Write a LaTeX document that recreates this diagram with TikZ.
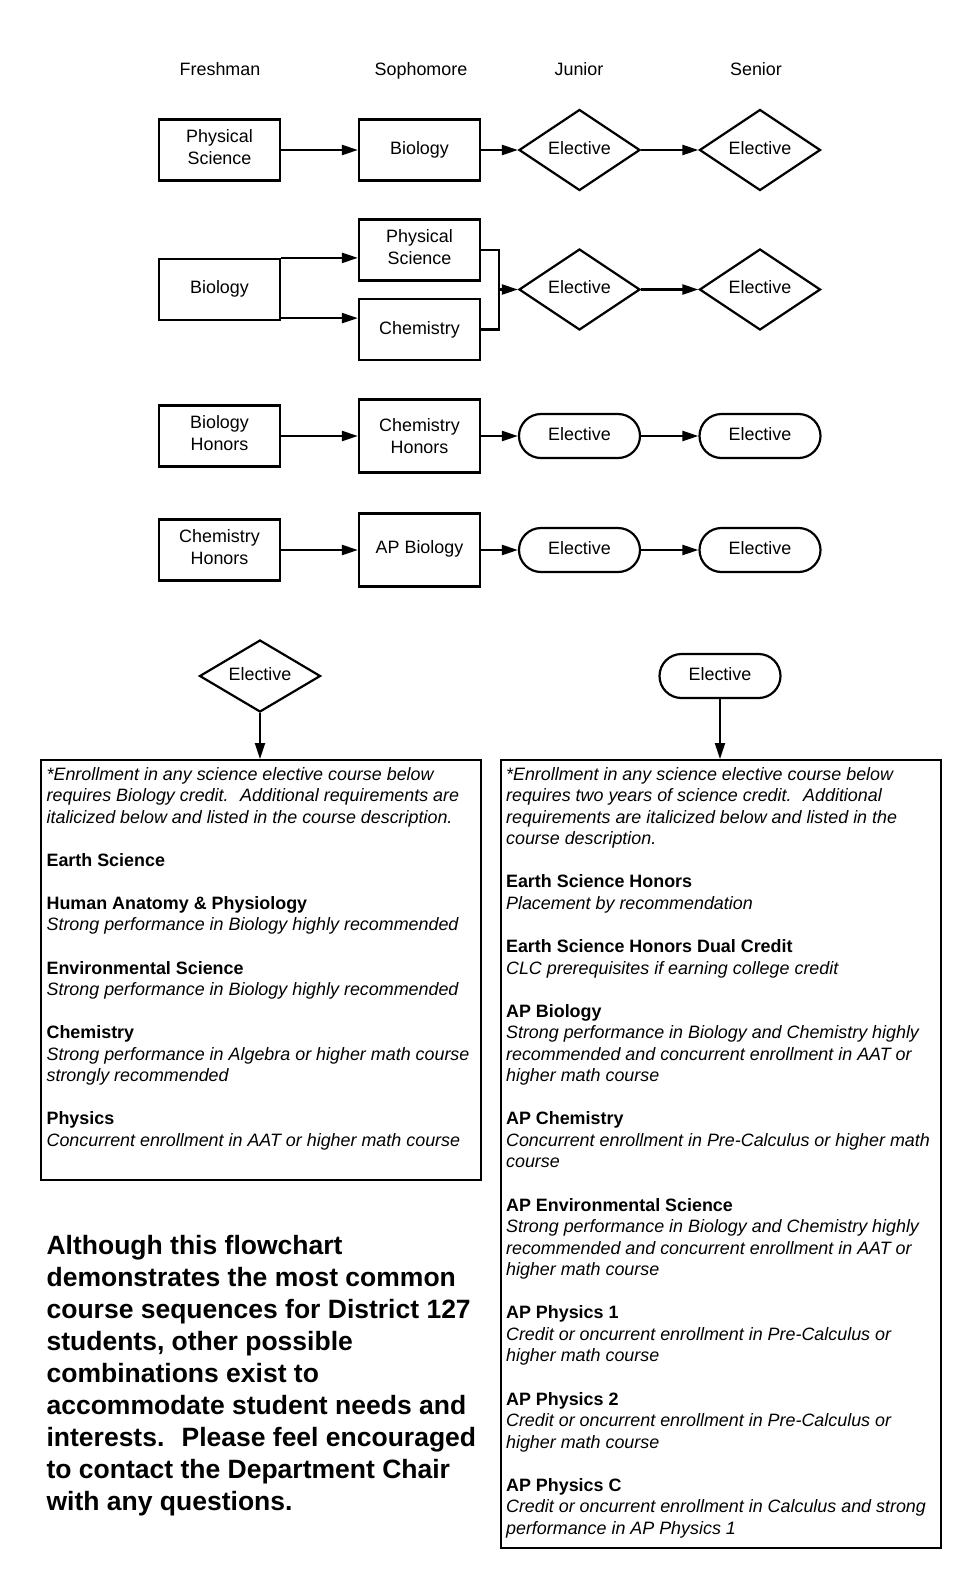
\documentclass[tikz,border=0pt]{standalone}
\usepackage{fontspec}
\setmainfont{Liberation Sans}
\usetikzlibrary{positioning,calc,arrows.meta,shapes.geometric}
\newcommand{\crs}[1]{\textbf{#1}}
\newcommand{\req}[1]{\textit{#1}}

\begin{document}
\begin{tikzpicture}[x=1pt, y=-1pt, line width=2.2pt,
    >={Triangle[length=16pt, width=10pt]},
    font=\fontsize{17.9}{21.5}\selectfont,
    coursebox/.style={draw, minimum width=121pt, minimum height=61pt, align=center, inner sep=2pt,
                      text depth=5.5pt},
    tallbox/.style={coursebox, minimum height=73pt},
    electdia/.style={draw, diamond, aspect=2, minimum width=121pt, minimum height=81pt, inner sep=0pt,
                     text height=13pt, text depth=5pt},
    electpill/.style={draw, rounded corners=22pt, minimum width=121pt, minimum height=44pt, inner sep=0pt,
                      text height=13pt, text depth=4.5pt},
    infobox/.style={draw, minimum width=440pt, anchor=north west, inner sep=0pt},
    infotext/.style={anchor=north west, inner sep=0pt, align=left,
                     font=\fontsize{17.9}{21.55}\selectfont}]

%%% ---------- DIMENSIONES ----------
\def\colA{219.5}
\def\colB{419.5}
\def\colC{579.5}
\def\colD{760}

\useasboundingbox[fill=white] (0,0) rectangle (980,1588);

% Encabezados
\foreach \year/\xx in {Freshman/220, Sophomore/421, Junior/579, Senior/756}
    \node[anchor=base] (hd\year) at (\xx,75.2) {\year};

%%% ---------- FILA 1 ----------
\node[coursebox] (phys1) at (\colA,150) {Physical\\Science};
\node[coursebox, text depth=3.8pt] (bio1) at (\colB,150) {Biology};
\node[electdia]  (jr1)   at (\colC,150) {Elective};
\node[electdia]  (sr1)   at (\colD,150) {Elective};

%%% ---------- FILA 2 ----------
\node[coursebox] (bio2)  at (\colA,289.5) {Biology};
\node[coursebox] (phys2) at (\colB,250) {Physical\\Science};
\node[coursebox, text depth=3.8pt] (chem2) at (\colB,329.5) {Chemistry};
\node[electdia]  (jr2)   at (\colC,289.5) {Elective};
\node[electdia]  (sr2)   at (\colD,289.5) {Elective};

%%% ---------- FILA 3 ----------
\node[coursebox] (bioh3)  at (\colA,436) {Biology\\Honors};
\node[tallbox, text depth=0pt] (chemh3) at (\colB,436) {Chemistry\\Honors};
\node[electpill] (jr3)    at (\colC,436) {Elective};
\node[electpill] (sr3)    at (\colD,436) {Elective};

%%% ---------- FILA 4 ----------
\node[coursebox] (chemh4) at (\colA,550) {Chemistry\\Honors};
\node[tallbox]   (apbio4) at (\colB,550) {AP Biology};
\node[electpill] (jr4)    at (\colC,550) {Elective};
\node[electpill] (sr4)    at (\colD,550) {Elective};

% Flechas de las filas
\draw[->] (phys1) -- (bio1);
\draw[->] (bioh3) -- (chemh3);
\draw[->] (chemh4) -- (apbio4);
\draw[->] (bio1) -- (jr1);
\draw[->] (chemh3) -- (jr3);
\draw[->] (apbio4) -- (jr4);
\foreach \i in {1,2,3,4} {
    \draw[->] (jr\i) -- (sr\i);
}

% Bifurcacion y union de la fila 2
\coordinate (bio2lo) at ([yshift=3pt]bio2.south east);
\coordinate (join2) at (499,289.5);
\draw[->] (bio2.north east) -- (bio2.north east -| phys2.west);
\draw[->] (bio2lo) -- (bio2lo -| chem2.west);
\draw (phys2.east) -| (join2) |- (chem2.east);
\draw[->] (join2) -- (jr2);

%%% ---------- ELECTIVAS ----------
\node[electdia, minimum height=72pt] (leftel) at (260,676) {Elective};
\node[electpill] (rightel) at (720,676) {Elective};

\node[infobox, minimum height=420pt] (leftbox) at (39.5,759) {};
\node[infobox, minimum height=788pt] (rightbox) at (500,759) {};

\draw[->] (leftel) -- (leftel |- leftbox.north);
\draw[->] (rightel) -- (rightel |- rightbox.north);

\node[infotext] (lefttext) at ([xshift=6pt, yshift=-7pt]leftbox.north west) {%
    \req{*Enrollment in any science elective course below}\\
    \req{requires Biology credit.~ Additional requirements are}\\
    \req{italicized below and listed in the course description.}\\[\baselineskip]
    \crs{Earth Science}\\[\baselineskip]
    \crs{Human Anatomy \& Physiology}\\
    \req{Strong performance in Biology highly recommended}\\[\baselineskip]
    \crs{Environmental Science}\\
    \req{Strong performance in Biology highly recommended}\\[\baselineskip]
    \crs{Chemistry}\\
    \req{Strong performance in Algebra or higher math course}\\
    \req{strongly recommended}\\[\baselineskip]
    \crs{Physics}\\
    \req{Concurrent enrollment in AAT or higher math course}};

\node[infotext] (righttext) at ([xshift=5pt, yshift=-7pt]rightbox.north west) {%
    \req{*Enrollment in any science elective course below}\\
    \req{requires two years of science credit.~ Additional}\\
    \req{requirements are italicized below and listed in the}\\
    \req{course description.}\\[\baselineskip]
    \crs{Earth Science Honors}\\
    \req{Placement by recommendation}\\[\baselineskip]
    \crs{Earth Science Honors Dual Credit}\\
    \req{CLC prerequisites if earning college credit}\\[\baselineskip]
    \crs{AP Biology}\\
    \req{Strong performance in Biology and Chemistry highly}\\
    \req{recommended and concurrent enrollment in AAT or}\\
    \req{higher math course}\\[\baselineskip]
    \crs{AP Chemistry}\\
    \req{Concurrent enrollment in Pre-Calculus or higher math}\\
    \req{course}\\[\baselineskip]
    \crs{AP Environmental Science}\\
    \req{Strong performance in Biology and Chemistry highly}\\
    \req{recommended and concurrent enrollment in AAT or}\\
    \req{higher math course}\\[\baselineskip]
    \crs{AP Physics 1}\\
    \req{Credit or oncurrent enrollment in Pre-Calculus or}\\
    \req{higher math course}\\[\baselineskip]
    \crs{AP Physics 2}\\
    \req{Credit or oncurrent enrollment in Pre-Calculus or}\\
    \req{higher math course}\\[\baselineskip]
    \crs{AP Physics C}\\
    \req{Credit or oncurrent enrollment in Calculus and strong}\\
    \req{performance in AP Physics 1}};

% Nota final
\node[anchor=north west, inner sep=0pt, align=left,
      font=\bfseries\fontsize{26.5}{31.9}\selectfont]
      (note) at (45.5,1234.5) {%
    Although this flowchart\\
    demonstrates the most common\\
    course sequences for District 127\\
    students, other possible\\
    combinations exist to\\
    accommodate student needs and\\
    interests.~ Please feel encouraged\\
    to contact the Department Chair\\
    with any questions.};

\end{tikzpicture}
\end{document}
